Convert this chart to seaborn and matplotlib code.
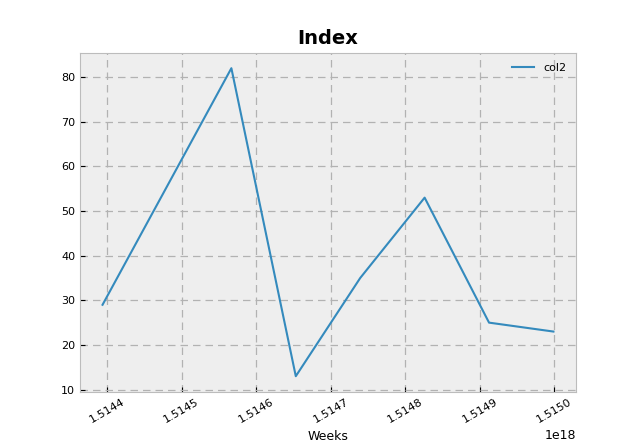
import numpy as np
import pandas as pd
import matplotlib
matplotlib.use("Agg")
import matplotlib.pyplot as plt
import seaborn as sns

dates = ["2017-12-27 17:00", "2017-12-29 17:00", "2017-12-30 17:00",
         "2017-12-31 17:00", "2018-01-01 17:00", "2018-01-02 17:00",
         "2018-01-03 17:00"]
col2 = [29, 82, 13, 35, 53, 25, 23]

plt.style.use("bmh")
plt.rcParams["font.family"] = ["DejaVu Sans"]

x_ns = pd.to_datetime(dates).astype("int64").to_numpy()
df = pd.DataFrame({"Weeks": x_ns, "col2": col2})

fig, ax = plt.subplots(figsize=(6.4, 4.4), dpi=100)
sns.lineplot(data=df, x="Weeks", y="col2", ax=ax, label="col2",
             color="#348ABD", linewidth=1.5)
ax.set_facecolor("#eeeeee")
ax.grid(True, color="#b2b2b2", linestyle=(0, (6, 4)), linewidth=0.9)
for s in ax.spines.values():
    s.set_color("#bcbcbc")
ax.set_title("Index", fontsize=14, fontweight="bold")
ax.set_xlabel("Weeks", fontsize=9)
ax.set_ylabel("")
ax.tick_params(axis="both", labelsize=8)
plt.setp(ax.get_xticklabels(), rotation=30)
ax.xaxis.get_offset_text().set_fontsize(9)
ax.legend(loc="upper right", fontsize=8, frameon=False)
fig.savefig("out.png", dpi=100)
